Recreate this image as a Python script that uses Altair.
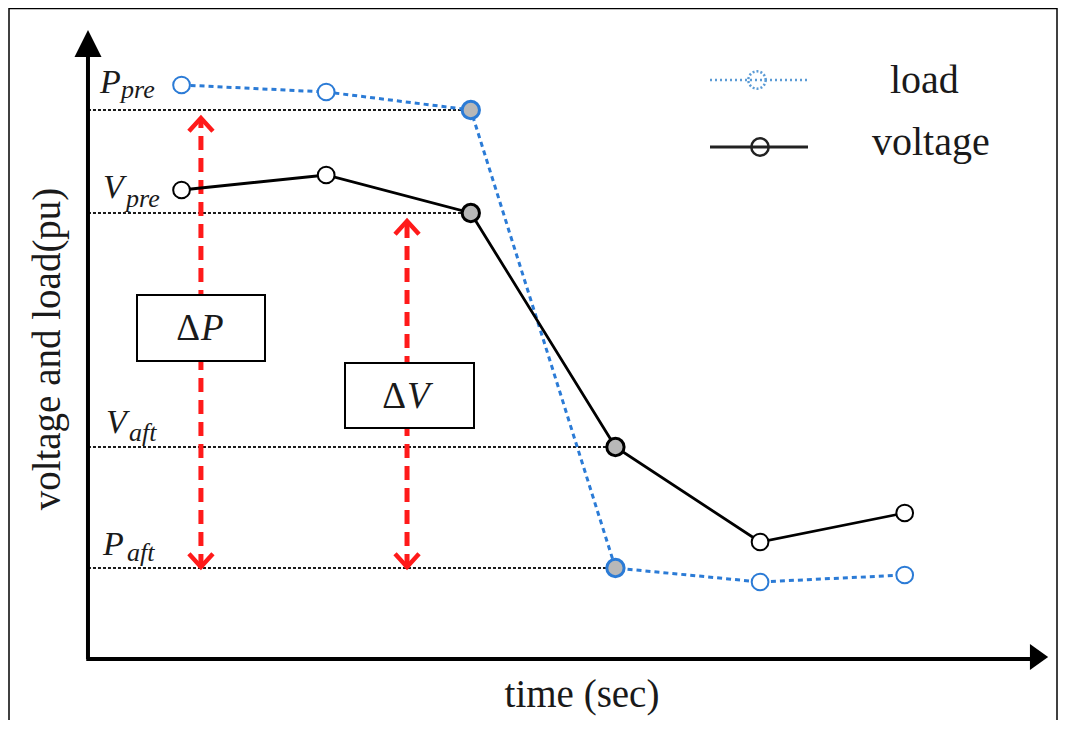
import altair as alt
import pandas as pd

# ---------------- data ----------------
times = [1, 2, 3, 4, 5, 6]
load_pu = [1.144, 1.130, 1.094, 0.178, 0.150, 0.164]
voltage_pu = [0.934, 0.964, 0.888, 0.420, 0.230, 0.288]
event_times = [3, 4]            # highlighted (grey-filled) points

axis_origin_t = 0.353
x_arrow_t = 6.929
y_arrow_v = 1.227

dP_arrow_t = 1.134
dV_arrow_t = 2.559

ref_letters = ["P", "V", "V", "P"]
ref_subs = ["pre", "pre", "aft", "aft"]
ref_series = ["load", "voltage", "voltage", "load"]
ref_times = [3, 3, 4, 4]

legend_names = ["load", "voltage"]
x_title = "time (sec)"
y_title = "voltage and load(pu)"

# ---------------- tables ----------------
series = {"load": load_pu, "voltage": voltage_pu}
df_load = pd.DataFrame({"t": times, "v": load_pu})
df_volt = pd.DataFrame({"t": times, "v": voltage_pu})
df_load["event"] = df_load["t"].isin(event_times)
df_volt["event"] = df_volt["t"].isin(event_times)

ref_vals = [series[s][times.index(t)] for s, t in zip(ref_series, ref_times)]
df_ref = pd.DataFrame({"t0": [axis_origin_t] * 4, "t1": ref_times, "v": ref_vals,
                       "letter": ref_letters, "sub": ref_subs})

P_pre, V_pre, V_aft, P_aft = ref_vals
df_arrows = pd.DataFrame({"t": [dP_arrow_t, dV_arrow_t],
                          "lo": [P_aft, P_aft], "hi": [P_pre, V_pre]})

dummy = pd.DataFrame({"k": [0]})

xs = alt.Scale(domain=[-0.2, 7.06], nice=False, zero=False)
ys = alt.Scale(domain=[-0.126, 1.298], nice=False, zero=False)


def X(f):
    return alt.X(f, type="quantitative", scale=xs, axis=None)


def Y(f):
    return alt.Y(f, type="quantitative", scale=ys, axis=None)


def X2(f):
    return alt.X2(f)


def Y2(f):
    return alt.Y2(f)


INK = "#1a1a1a"
BLUE = "#2b7bd6"
RED = "#ff1a1a"
GREY = "#b8b8b8"
SERIF = "Liberation Serif"

layers = []

# frame
for enc in [dict(x=alt.value(1), y=alt.value(0), y2=alt.value(712)),
            dict(x=alt.value(1049), y=alt.value(0), y2=alt.value(712)),
            dict(x=alt.value(1), x2=alt.value(1049), y=alt.value(0.5))]:
    layers.append(alt.Chart(dummy).mark_rule(color="black", strokeWidth=1.5).encode(**enc))

# dashed reference lines
layers.append(alt.Chart(df_ref).mark_rule(color=INK, strokeWidth=2, strokeDash=[3, 2]).encode(
    x=X("t0"), x2=X2("t1"), y=Y("v")))

# axes
df_axes = pd.DataFrame({"t0": [axis_origin_t - 0.012], "t1": [x_arrow_t], "v0": [-0.004], "v1": [y_arrow_v]})
layers.append(alt.Chart(df_axes).mark_rule(color="black", strokeWidth=4).encode(
    x=X("t0"), x2=X2("t1"), y=alt.Y("v0", type="quantitative", scale=ys, axis=None)))
df_axes2 = pd.DataFrame({"t": [axis_origin_t], "v0": [-0.004], "v1": [y_arrow_v]})
layers.append(alt.Chart(df_axes2).mark_rule(color="black", strokeWidth=4).encode(
    x=X("t"), y=Y("v0"), y2=Y2("v1")))
layers.append(alt.Chart(pd.DataFrame({"t": [axis_origin_t], "v": [y_arrow_v]})).mark_point(
    shape="M0,-1L1,1L-1,1Z", filled=True, size=729, color="black", opacity=1).encode(x=X("t"), y=Y("v")))
layers.append(alt.Chart(pd.DataFrame({"t": [x_arrow_t], "v": [0.0]})).mark_point(
    shape="M-0.7,-1L0.7,0L-0.7,1Z", filled=True, size=676, color="black", opacity=1).encode(x=X("t"), y=Y("v")))

# red double arrows
layers.append(alt.Chart(df_arrows).mark_rule(color=RED, strokeWidth=5, strokeDash=[14, 8], y2Offset=8).encode(
    x=X("t"), y=Y("lo"), y2=Y2("hi")))
layers.append(alt.Chart(df_arrows).mark_point(
    shape="M-1,1.1L0,0L1,1.1", filled=False, size=576, color=RED, strokeWidth=4.5, opacity=1,
    yOffset=8).encode(x=X("t"), y=Y("hi")))
layers.append(alt.Chart(df_arrows).mark_point(
    shape="M-1,-1.1L0,0L1,-1.1", filled=False, size=576, color=RED, strokeWidth=4.5, opacity=1,
    yOffset=-1).encode(x=X("t"), y=Y("lo")))

# delta boxes
for bx in [(129, 257, 287, 353), (337, 466, 355, 420)]:
    layers.append(alt.Chart(dummy).mark_rect(fill="white", stroke="black", strokeWidth=2).encode(
        x=alt.value(bx[0]), x2=alt.value(bx[1]), y=alt.value(bx[2]), y2=alt.value(bx[3])))
for (cx, by, letter) in [(192, 332, "P"), (398, 400, "V")]:
    layers.append(alt.Chart(dummy).mark_text(text="Δ", font=SERIF, fontSize=37, align="right",
                                             baseline="alphabetic", color=INK).encode(
        x=alt.value(cx), y=alt.value(by)))
    layers.append(alt.Chart(dummy).mark_text(text=letter, font=SERIF, fontSize=37, fontStyle="italic",
                                             align="left", baseline="alphabetic", color=INK).encode(
        x=alt.value(cx + 1), y=alt.value(by)))

# series lines
layers.append(alt.Chart(df_load).mark_line(color=BLUE, strokeWidth=3, strokeDash=[5, 4]).encode(
    x=X("t"), y=Y("v")))
layers.append(alt.Chart(df_volt).mark_line(color="black", strokeWidth=2.8).encode(
    x=X("t"), y=Y("v")))

# points
for df, col in [(df_load, BLUE), (df_volt, "black")]:
    layers.append(alt.Chart(df[~df["event"]]).mark_point(
        shape="circle", size=280, filled=True, fill="white", stroke=col, strokeWidth=2, opacity=1).encode(
        x=X("t"), y=Y("v")))
    layers.append(alt.Chart(df[df["event"]]).mark_point(
        shape="circle", size=300, filled=True, fill=GREY, stroke=col, strokeWidth=3, opacity=1).encode(
        x=X("t"), y=Y("v")))

# reference-line labels (letter + subscript)
label_style = [  # (dx, dy) for letter, (dx, dy) for subscript
    ((12, -17), (33, -12)),
    ((15, -15), (38, -6)),
    ((18, -14), (41, -6)),
    ((15, -13), (39, -7)),
]
for i, ((ldx, ldy), (sdx, sdy)) in enumerate(label_style):
    row = df_ref.iloc[[i]]
    layers.append(alt.Chart(row).mark_text(font=SERIF, fontStyle="italic", fontSize=34, align="left",
                                           baseline="alphabetic", dx=ldx, dy=ldy, color=INK).encode(
        x=X("t0"), y=Y("v"), text="letter:N"))
    layers.append(alt.Chart(row).mark_text(font=SERIF, fontStyle="italic", fontSize=26, align="left",
                                           baseline="alphabetic", dx=sdx, dy=sdy, color=INK).encode(
        x=X("t0"), y=Y("v"), text="sub:N"))

# axis titles
layers.append(alt.Chart(dummy).mark_text(text=x_title, font=SERIF, fontSize=39, align="center",
                                         baseline="alphabetic", color=INK).encode(
    x=alt.value(574), y=alt.value(699)))
layers.append(alt.Chart(dummy).mark_text(text=y_title, font=SERIF, fontSize=39, align="center",
                                         baseline="alphabetic", angle=270, color=INK).encode(
    x=alt.value(52), y=alt.value(341)))

# legend
layers.append(alt.Chart(dummy).mark_rule(color="#5b9bd5", strokeWidth=2.5, strokeDash=[2, 3]).encode(
    x=alt.value(702), x2=alt.value(800), y=alt.value(72)))
layers.append(alt.Chart(dummy).mark_point(shape="circle", size=300, filled=False, color="#5b9bd5",
                                          strokeWidth=2.5, strokeDash=[2, 2], opacity=1).encode(
    x=alt.value(749), y=alt.value(72)))
layers.append(alt.Chart(dummy).mark_rule(color="#222222", strokeWidth=3).encode(
    x=alt.value(702), x2=alt.value(800), y=alt.value(139)))
layers.append(alt.Chart(dummy).mark_point(shape="circle", size=300, filled=False, color="#222222",
                                          strokeWidth=2.5, opacity=1).encode(
    x=alt.value(752), y=alt.value(139)))
layers.append(alt.Chart(dummy).mark_text(text=legend_names[0], font=SERIF, fontSize=40, align="left",
                                         baseline="alphabetic", color=INK).encode(
    x=alt.value(882), y=alt.value(85)))
layers.append(alt.Chart(dummy).mark_text(text=legend_names[1], font=SERIF, fontSize=40, align="left",
                                         baseline="alphabetic", color=INK).encode(
    x=alt.value(864), y=alt.value(147)))

chart = alt.layer(*layers).properties(
    width=1050, height=712, autosize=alt.AutoSizeParams(type="none"), padding=0
).configure_view(stroke=None)

chart.save("out.html", embed_options={"renderer": "svg", "actions": False})
